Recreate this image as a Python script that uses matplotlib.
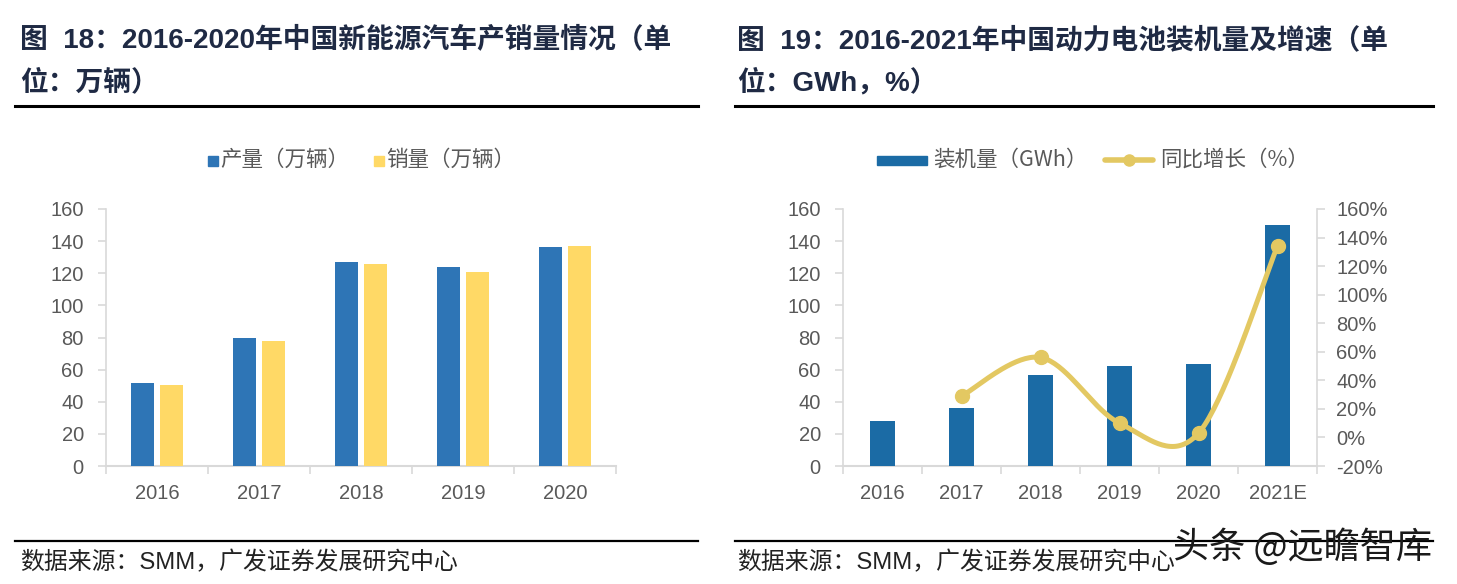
import numpy as np
import matplotlib
matplotlib.use("Agg")
import matplotlib.pyplot as plt
from matplotlib.lines import Line2D
from matplotlib.patches import Rectangle

plt.rcParams['font.family'] = ['Liberation Sans', 'Noto Sans CJK SC', 'DejaVu Sans']

# ---------------- data ----------------
years_ev = ["2016", "2017", "2018", "2019", "2020"]
production = [51.7, 79.4, 127.0, 124.2, 136.6]
sales = [50.7, 77.7, 125.6, 120.6, 136.7]

years_bat = ["2016", "2017", "2018", "2019", "2020", "2021E"]
installed = [28.0, 36.4, 56.9, 62.2, 63.6, 150.0]
growth_years_idx = [1, 2, 3, 4, 5]
growth = [29, 56, 10, 3, 134]

left_yticks = [0, 20, 40, 60, 80, 100, 120, 140, 160]
right_yticks = [-20, 0, 20, 40, 60, 80, 100, 120, 140, 160]

# ---------------- style ----------------
W, H = 1457, 584
fig = plt.figure(figsize=(W / 100, H / 100), dpi=100)
TXT = "#595959"
SPINE = "#D9D9D9"
TITLE = "#1F2A44"
BLUE1 = "#2E75B6"
YEL = "#FFD966"
BLUE2 = "#1B6BA5"
LINEC = "#E3C862"


def px_axes(x0, y0, x1, y1):
    return fig.add_axes([x0 / W, 1 - y1 / H, (x1 - x0) / W, (y1 - y0) / H])


def style_axes(ax, n):
    for s in ["top", "right"]:
        ax.spines[s].set_visible(False)
    ax.spines["left"].set_color(SPINE)
    ax.spines["bottom"].set_color(SPINE)
    ax.spines["left"].set_linewidth(1.2)
    ax.spines["bottom"].set_linewidth(1.5)
    ax.set_xlim(-0.5, n - 0.5)
    ax.set_xticks(range(n))
    ax.set_xticks(np.arange(-0.5, n, 1.0), minor=True)
    ax.tick_params(axis="x", which="major", length=0, pad=13, labelsize=14.5, labelcolor=TXT)
    ax.tick_params(axis="x", which="minor", length=6, width=1.2, color=SPINE, direction="out")
    ax.tick_params(axis="y", length=6, width=1.2, color=SPINE, labelsize=14.5, labelcolor=TXT, pad=10)


def fig_line(x0, x1, y, lw):
    fig.add_artist(Line2D([x0 / W, x1 / W], [1 - y / H, 1 - y / H], color="black", lw=lw,
                          transform=fig.transFigure))


def ftext(x, y, s, **kw):
    fig.text(x / W, 1 - y / H, s, **kw)


# ---------------- titles / frames ----------------
tkw = dict(fontsize=20, fontweight="bold", color=TITLE, va="center", ha="left")
ftext(20, 41, "图  18：2016-2020年中国新能源汽车产销量情况（单", **tkw)
ftext(20, 83, "位：万辆）", **tkw)
ftext(737, 41, "图  19：2016-2021年中国动力电池装机量及增速（单", **tkw)
ftext(737, 83, "位：GWh，%）", **tkw)
fig_line(15, 698, 106, 2.2)
fig_line(735, 1433, 106, 2.2)
fig_line(15, 698, 541, 1.6)
fig_line(735, 1433, 541, 1.6)

skw = dict(fontsize=17.2, color="#222222", va="center", ha="left")
ftext(20, 563, "数据来源：SMM，广发证券发展研究中心", **skw)
ftext(737, 563, "数据来源：SMM，广发证券发展研究中心", **skw)
ftext(1173, 547, "头条 @远瞻智库", fontsize=26, color="#1a1a1a", va="center", ha="left",
      family=['Noto Sans CJK SC', 'DejaVu Sans'])

# ---------------- left chart ----------------
ax1 = px_axes(106, 209, 616, 466)
x = np.arange(len(years_ev))
off = 0.1435
bw = 0.225
ax1.bar(x - off, production, bw, color=BLUE1, zorder=3)
ax1.bar(x + off, sales, bw, color=YEL, zorder=3)
ax1.set_ylim(0, 160)
ax1.set_yticks(left_yticks)
style_axes(ax1, len(years_ev))
ax1.set_xticklabels(years_ev)

lkw = dict(fontsize=15.5, color=TXT, va="center", ha="left", family=['Noto Sans CJK SC', 'DejaVu Sans'])
fig.add_artist(Rectangle((208 / W, 1 - 166 / H), 10 / W, 10 / H, color=BLUE1, transform=fig.transFigure))
ftext(220, 160, "产量（万辆）", **lkw)
fig.add_artist(Rectangle((374 / W, 1 - 166 / H), 10 / W, 10 / H, color=YEL, transform=fig.transFigure))
ftext(386, 160, "销量（万辆）", **lkw)

# ---------------- right chart ----------------
ax2 = px_axes(843, 209, 1317, 466)
x2 = np.arange(len(years_bat))
ax2.bar(x2, installed, 0.32, color=BLUE2, zorder=3)
ax2.set_ylim(0, 160)
ax2.set_yticks(left_yticks)
style_axes(ax2, len(years_bat))
ax2.set_xticklabels(years_bat)

ax3 = ax2.twinx()
ax3.set_ylim(-20, 160)
ax3.set_yticks(right_yticks)
ax3.set_yticklabels([f"{v}%" for v in right_yticks])
for s in ["top", "left", "bottom"]:
    ax3.spines[s].set_visible(False)
ax3.spines["right"].set_color(SPINE)
ax3.spines["right"].set_linewidth(1.2)
ax3.tick_params(axis="y", length=6, width=1.2, color=SPINE, labelsize=14.5, labelcolor=TXT, pad=8)


# smooth curve (Bezier through the points, like Excel's smoothed line)
def smooth(xs, ys, n=40):
    xs = np.asarray(xs, float)
    ys = np.asarray(ys, float)
    P = np.column_stack([xs, ys])
    out = []
    for i in range(len(P) - 1):
        p0 = P[i - 1] if i > 0 else P[i]
        p1, p2 = P[i], P[i + 1]
        p3 = P[i + 2] if i + 2 < len(P) else P[i + 1]
        c1 = p1 + (p2 - p0) / 6
        c2 = p2 - (p3 - p1) / 6
        t = np.linspace(0, 1, n)[:, None]
        seg = (1 - t) ** 3 * p1 + 3 * (1 - t) ** 2 * t * c1 + 3 * (1 - t) * t ** 2 * c2 + t ** 3 * p2
        out.append(seg if i == 0 else seg[1:])
    out = np.vstack(out)
    return out[:, 0], out[:, 1]


sx, sy = smooth(growth_years_idx, growth)
ax3.plot(sx, sy, color=LINEC, lw=3.6, zorder=4, solid_capstyle="round")
ax3.plot(growth_years_idx, growth, "o", color=LINEC, ms=10, zorder=5)

fig.add_artist(Rectangle((877 / W, 1 - 165 / H), 50 / W, 9 / H, color=BLUE2, transform=fig.transFigure))
ftext(933, 160, "装机量（GWh）", **lkw)
fig.add_artist(Line2D([1105 / W, 1153 / W], [1 - 160 / H, 1 - 160 / H], color=LINEC, lw=4,
                      solid_capstyle="round", transform=fig.transFigure))
fig.add_artist(Line2D([1129 / W], [1 - 160 / H], marker="o", ms=8, color=LINEC, transform=fig.transFigure))
ftext(1160, 160, "同比增长（%）", **lkw)

fig.savefig("out.png", dpi=100)
